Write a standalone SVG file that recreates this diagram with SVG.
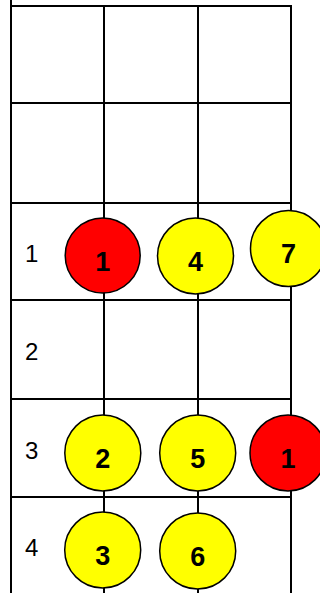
<svg xmlns="http://www.w3.org/2000/svg" width="320" height="593" viewBox="0 0 320 593">
<style>
.grid line{stroke:#000;stroke-width:2;fill:none}
.dot{stroke:#000;stroke-width:1.5}
.y{fill:#ffff00}
.r{fill:#ff0000}
.lab{font-family:"Liberation Sans",Arial,sans-serif;font-size:24px;fill:#000}
.num{font-family:"Liberation Sans",Arial,sans-serif;font-size:27px;font-weight:bold;fill:#000;text-anchor:middle}
</style>
<rect width="320" height="593" fill="#fff"/>
<g id="grid" class="grid">
<line x1="11" y1="0" x2="11" y2="593"/>
<line x1="104" y1="5" x2="104" y2="593"/>
<line x1="198" y1="5" x2="198" y2="593"/>
<line x1="291" y1="5" x2="291" y2="593"/>
<line x1="10" y1="6" x2="292" y2="6"/>
<line x1="10" y1="103" x2="292" y2="103"/>
<line x1="10" y1="203" x2="292" y2="203"/>
<line x1="10" y1="300" x2="292" y2="300"/>
<line x1="10" y1="399" x2="292" y2="399"/>
<line x1="10" y1="497" x2="292" y2="497"/>
</g>
<g id="labels">
<text class="lab" x="25" y="262">1</text>
<text class="lab" x="25" y="360">2</text>
<text class="lab" x="25" y="459">3</text>
<text class="lab" x="25" y="556">4</text>
</g>
<g id="n1r1"><circle class="dot r" cx="102.7" cy="255.5" r="37.5"/><text class="num" x="102.7" y="270.5">1</text></g>
<g id="n1r4"><circle class="dot y" cx="195.5" cy="256" r="38"/><text class="num" x="195.5" y="271">4</text></g>
<g id="n1r7"><circle class="dot y" cx="288.5" cy="248.5" r="38"/><text class="num" x="288.5" y="263">7</text></g>
<g id="n3r2"><circle class="dot y" cx="102.8" cy="453" r="38"/><text class="num" x="102.8" y="468">2</text></g>
<g id="n3r5"><circle class="dot y" cx="197.7" cy="453" r="38"/><text class="num" x="197.7" y="468">5</text></g>
<g id="n3r1"><circle class="dot r" cx="288" cy="453" r="38"/><text class="num" x="288" y="468">1</text></g>
<g id="n4r3"><circle class="dot y" cx="102.7" cy="550" r="38"/><text class="num" x="102.7" y="565">3</text></g>
<g id="n4r6"><circle class="dot y" cx="197.7" cy="551" r="38"/><text class="num" x="197.7" y="566">6</text></g>
</svg>
